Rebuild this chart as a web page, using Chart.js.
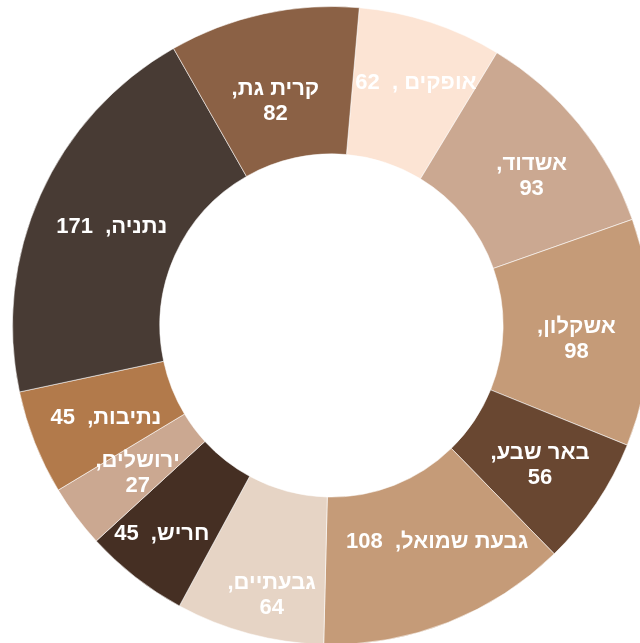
<!DOCTYPE html>
<html lang="he">
<head>
<meta charset="utf-8">
<title>ערים</title>
<script src="https://cdn.jsdelivr.net/npm/chart.js@4/dist/chart.umd.min.js"></script>
<style>
  html, body {
    margin: 0;
    padding: 0;
    width: 640px;
    height: 643px;
    overflow: hidden;
    background: #ffffff;
  }
  #wrap {
    position: absolute;
    left: 12px;
    top: 6px;
    width: 639px;
    height: 639px;
  }
</style>
</head>
<body>
<div id="wrap"><canvas id="cityChart" width="639" height="639"></canvas></div>
<script>
  var categories = [
    "אופקים ",
    "אשדוד",
    "אשקלון",
    "באר שבע",
    "גבעת שמואל",
    "גבעתיים",
    "חריש",
    "ירושלים",
    "נתיבות",
    "נתניה",
    "קרית גת",
  ];
  var values = [62, 93, 98, 56, 108, 64, 45, 27, 45, 171, 82];

  // which labels go on two lines (name above, number below)
  var wrapLabel = [false, true, true, true, false, true, false, true, false, false, true];

  // label anchor inside each slice: share of the sweep, share of the ring depth
  var labelAlong = [0.54, 0.56, 0.55, 0.5, 0.4, 0.41, 0.56, 0.45, 0.46, 0.5, 0.45];
  var labelDepth = [0.58, 0.53, 0.5, 0.54, 0.47, 0.71, 0.66, 0.49, 0.49, 0.47, 0.4];

  var sliceColors = [
    "#fce4d4",
    "#cba891",
    "#c59b78",
    "#694731",
    "#c59b78",
    "#e6d4c5",
    "#452f23",
    "#cba891",
    "#b27a4b",
    "#483b34",
    "#8b6145",
  ];

  var labelFont = 'bold 22px "Liberation Sans", Arial, sans-serif';

  /** white name/value labels inside each ring slice */
  var sliceLabels = {
    id: "sliceLabels",
    afterDatasetsDraw: function (chart) {
      var ctx = chart.ctx;
      var meta = chart.getDatasetMeta(0);
      ctx.save();
      ctx.font = labelFont;
      ctx.fillStyle = "#ffffff";
      ctx.textAlign = "center";
      ctx.textBaseline = "middle";
      ctx.direction = "rtl";
      meta.data.forEach(function (arc, i) {
        var p = arc.getProps(["x", "y", "startAngle", "endAngle", "innerRadius", "outerRadius"], true);
        var ang = p.startAngle + (p.endAngle - p.startAngle) * labelAlong[i];
        var r = p.innerRadius + (p.outerRadius - p.innerRadius) * labelDepth[i];
        var cx = p.x + Math.cos(ang) * r;
        var cy = p.y + Math.sin(ang) * r;
        var lines = wrapLabel[i]
          ? [categories[i] + ",", String(values[i])]
          : [categories[i] + ",  " + values[i]];
        var lh = 25;
        var y0 = cy - ((lines.length - 1) * lh) / 2;
        lines.forEach(function (line, k) {
          ctx.fillText(line, cx, y0 + k * lh);
        });
      });
      ctx.restore();
    },
  };

  new Chart(document.getElementById("cityChart"), {
    type: "doughnut",
    data: {
      labels: categories,
      datasets: [
        {
          data: values,
          backgroundColor: sliceColors,
          borderColor: "rgba(255,255,255,0.55)",
          borderWidth: 1,
          hoverOffset: 0,
        },
      ],
    },
    options: {
      responsive: false,
      animation: false,
      cutout: "53.8%",
      rotation: 5,
      layout: { padding: 0 },
      plugins: {
        legend: { display: false },
        tooltip: { enabled: false },
      },
    },
    plugins: [sliceLabels],
  });
</script>
</body>
</html>
